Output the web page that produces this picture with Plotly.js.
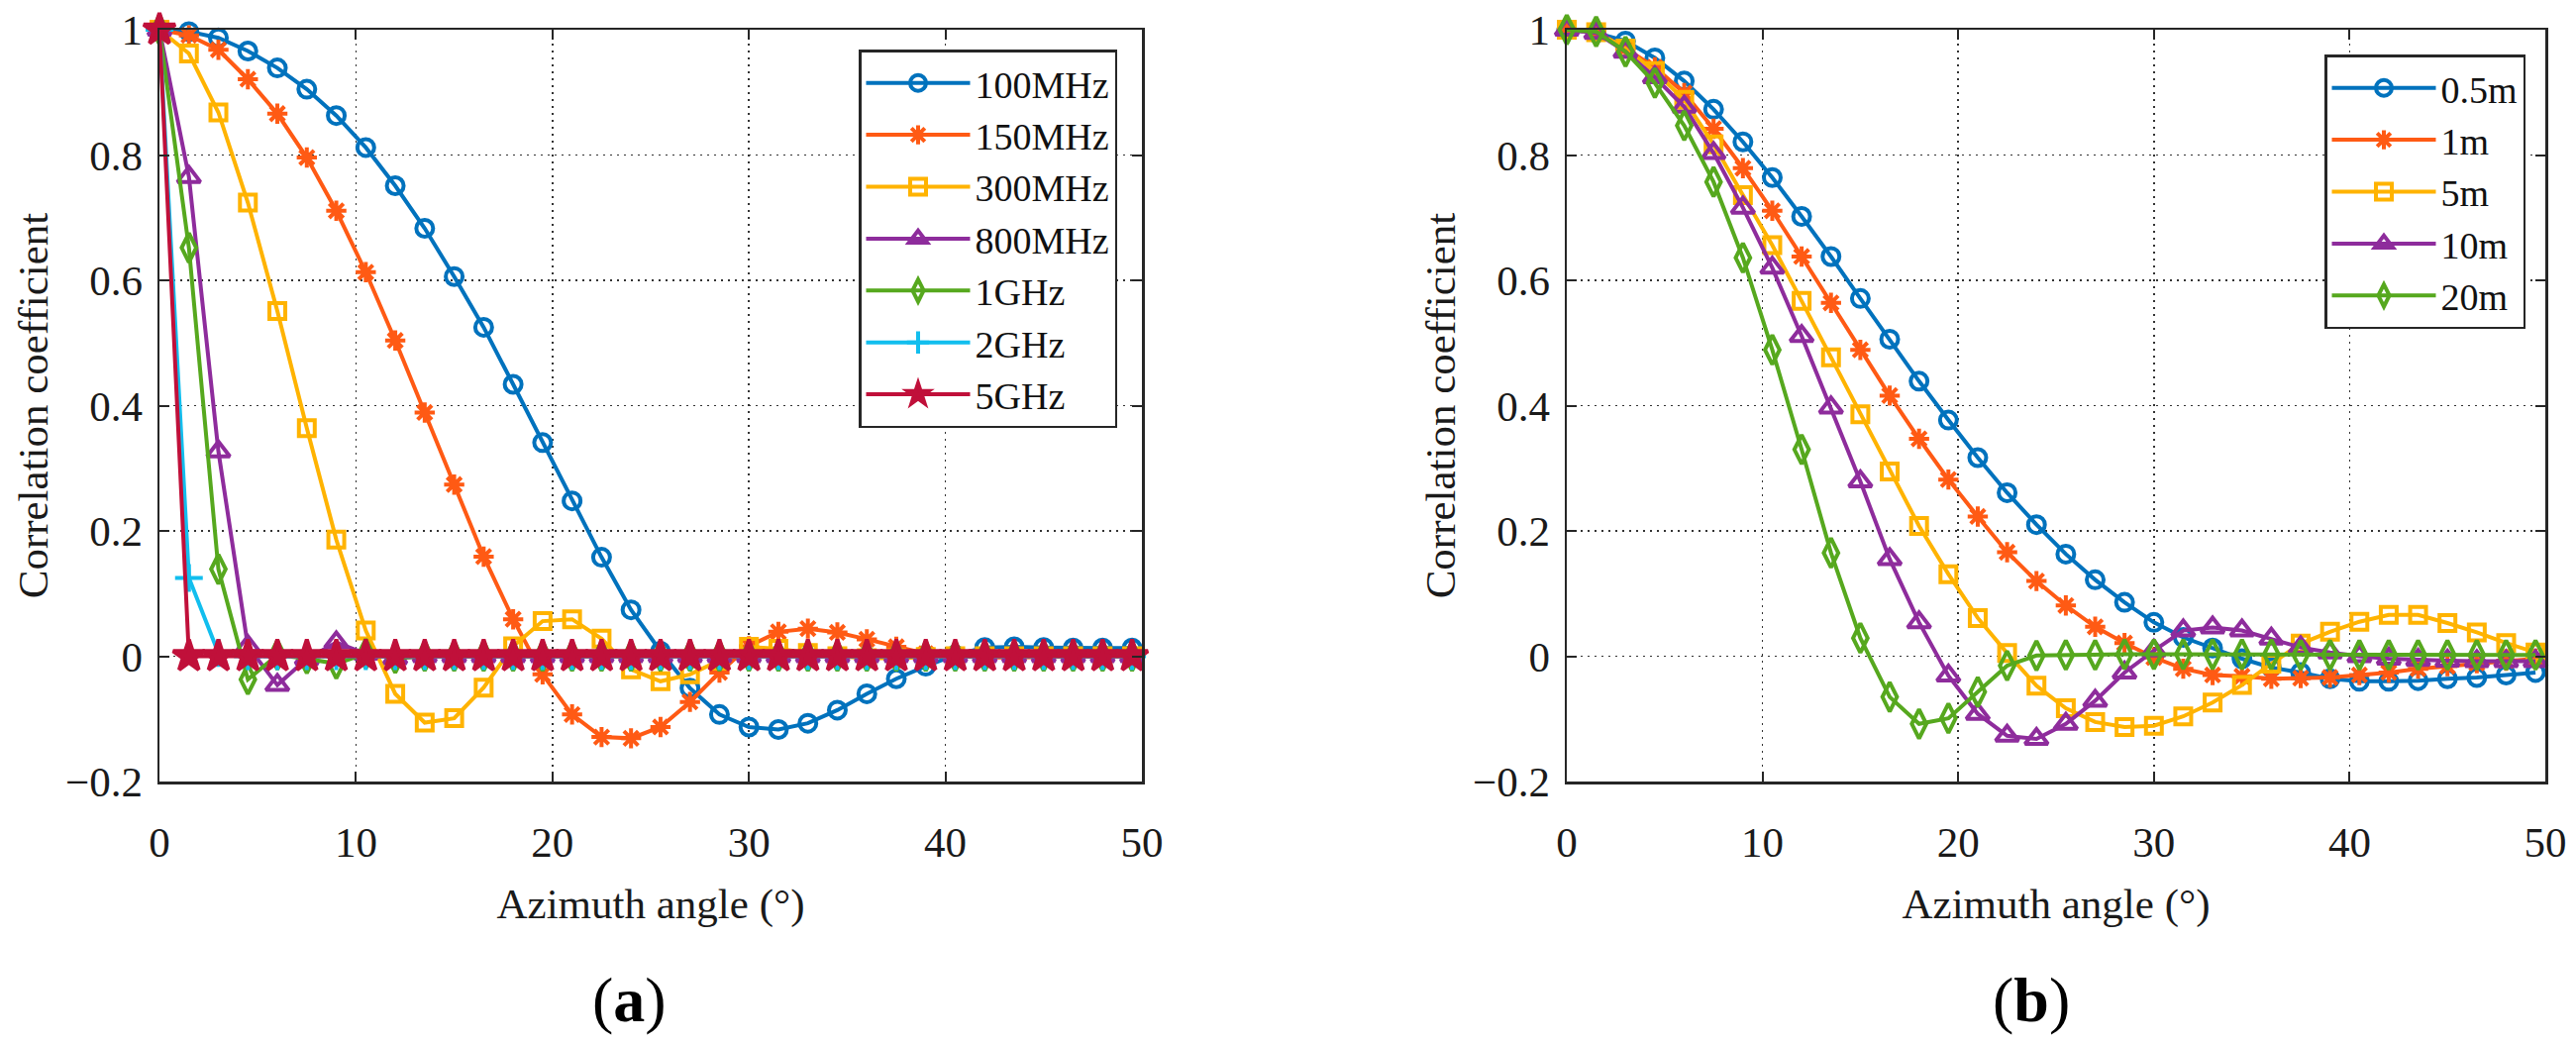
<!DOCTYPE html>
<html>
<head>
<meta charset="utf-8">
<script src="https://cdn.plot.ly/plotly-3.0.1.min.js"></script>
<style>
  html, body { margin: 0; padding: 0; background: #ffffff; }
  #chart { width: 2601px; height: 1054px; }
</style>
</head>
<body>
<div id="chart"></div>
<script>
// ---------- Data ----------
const angle = [0, 1.5, 3, 4.5, 6, 7.5, 9, 10.5, 12, 13.5, 15, 16.5, 18, 19.5, 21, 22.5, 24, 25.5,
               27, 28.5, 30, 31.5, 33, 34.5, 36, 37.5, 39, 40.5, 42, 43.5, 45, 46.5, 48, 49.5];

// (a) frequency dependence
const freqNames = ["100MHz", "150MHz", "300MHz", "800MHz", "1GHz", "2GHz", "5GHz"];
const f100MHz = [1.0, 0.997, 0.987, 0.966, 0.939, 0.905, 0.863, 0.812, 0.751, 0.683, 0.606, 0.525, 0.434, 0.341, 0.248, 0.158, 0.074, 0.008,
                 -0.051, -0.093, -0.113, -0.117, -0.107, -0.086, -0.060, -0.036, -0.016, 0.002, 0.014, 0.015, 0.014, 0.013, 0.013, 0.013];
const f150MHz = [1.0, 0.991, 0.968, 0.921, 0.866, 0.796, 0.711, 0.613, 0.504, 0.389, 0.274, 0.159, 0.059, -0.029, -0.093, -0.129, -0.131, -0.113,
                 -0.073, -0.026, 0.016, 0.039, 0.044, 0.038, 0.027, 0.015, 0.004, 0.0, -0.002, -0.002, -0.001, 0.0, 0.0, 0.0];
const f300MHz = [1.0, 0.962, 0.868, 0.724, 0.551, 0.364, 0.186, 0.041, -0.060, -0.106, -0.099, -0.050, 0.016, 0.056, 0.059, 0.028, -0.021, -0.040,
                 -0.029, -0.007, 0.015, 0.012, 0.005, 0.0, -0.003, -0.003, -0.001, 0.0, 0.0, 0.0, 0.0, 0.0, 0.0, 0.0];
const f800MHz = [1.0, 0.765, 0.327, 0.016, -0.046, -0.004, 0.022, 0.004, -0.003, 0.0, 0.0, 0.0, 0.0, 0.0, 0.0, 0.0, 0.0, 0.0,
                 0.0, 0.0, 0.0, 0.0, 0.0, 0.0, 0.0, 0.0, 0.0, 0.0, 0.0, 0.0, 0.0, 0.0, 0.0, 0.0];
const f1GHz   = [1.0, 0.652, 0.139, -0.037, 0.002, -0.004, -0.012, 0.004, -0.003, 0.0, 0.0, 0.0, 0.0, 0.0, 0.0, 0.0, 0.0, 0.0,
                 0.0, 0.0, 0.0, 0.0, 0.0, 0.0, 0.0, 0.0, 0.0, 0.0, 0.0, 0.0, 0.0, 0.0, 0.0, 0.0];
const f2GHz   = [1.0, 0.125, 0.005, 0.0, 0.0, 0.0, 0.0, 0.0, 0.0, 0.0, 0.0, 0.0, 0.0, 0.0, 0.0, 0.0, 0.0, 0.0,
                 0.0, 0.0, 0.0, 0.0, 0.0, 0.0, 0.0, 0.0, 0.0, 0.0, 0.0, 0.0, 0.0, 0.0, 0.0, 0.0];
const f5GHz   = [1.0, 0.0, 0.0, 0.0, 0.0, 0.0, 0.0, 0.0, 0.0, 0.0, 0.0, 0.0, 0.0, 0.0, 0.0, 0.0, 0.0, 0.0,
                 0.0, 0.0, 0.0, 0.0, 0.0, 0.0, 0.0, 0.0, 0.0, 0.0, 0.0, 0.0, 0.0, 0.0, 0.0, 0.0];

// (b) distance dependence
const distNames = ["0.5m", "1m", "5m", "10m", "20m"];
const d05m = [1.0, 0.995, 0.982, 0.955, 0.918, 0.873, 0.821, 0.764, 0.702, 0.638, 0.571, 0.506, 0.439, 0.377, 0.317, 0.261, 0.210, 0.163,
              0.122, 0.086, 0.054, 0.030, 0.013, -0.004, -0.018, -0.026, -0.036, -0.040, -0.040, -0.039, -0.036, -0.034, -0.030, -0.026];
const d1m  = [1.0, 0.997, 0.970, 0.940, 0.899, 0.842, 0.779, 0.711, 0.638, 0.564, 0.489, 0.416, 0.347, 0.282, 0.223, 0.166, 0.120, 0.081,
              0.047, 0.021, -0.002, -0.020, -0.030, -0.032, -0.036, -0.035, -0.034, -0.030, -0.026, -0.020, -0.016, -0.011, -0.007, -0.004];
const d5m  = [1.0, 0.996, 0.970, 0.934, 0.888, 0.817, 0.736, 0.656, 0.567, 0.477, 0.386, 0.295, 0.208, 0.131, 0.061, 0.005, -0.047, -0.083,
              -0.105, -0.113, -0.111, -0.096, -0.074, -0.046, -0.012, 0.020, 0.039, 0.055, 0.066, 0.066, 0.053, 0.038, 0.021, 0.006];
const d10m = [1.0, 0.995, 0.965, 0.924, 0.877, 0.803, 0.716, 0.620, 0.511, 0.397, 0.279, 0.155, 0.054, -0.031, -0.092, -0.127, -0.132, -0.108,
              -0.071, -0.026, 0.009, 0.041, 0.046, 0.041, 0.028, 0.014, 0.006, 0.0, -0.004, -0.006, -0.007, -0.008, -0.008, -0.008];
const d20m = [1.0, 0.997, 0.965, 0.915, 0.847, 0.757, 0.636, 0.489, 0.330, 0.165, 0.029, -0.065, -0.108, -0.099, -0.057, -0.015, 0.001, 0.002,
              0.002, 0.003, 0.003, 0.003, 0.003, 0.003, 0.003, 0.002, 0.002, 0.002, 0.002, 0.002, 0.002, 0.002, 0.002, 0.002];

const xTickVals = [0, 10, 20, 30, 40, 50];
const yTickVals = [-0.2, 0, 0.2, 0.4, 0.6, 0.8, 1];
const xTitle = "Azimuth angle (°)";
const yTitle = "Correlation coefficient";
const panelLabels = ["(<b>a</b>)", "(<b>b</b>)"];

// ---------- Styles ----------
const C = {
  blue: "#0072BD", orange: "#FF5A14", yellow: "#FFB300", purple: "#8E2C9C",
  green: "#56A81E", cyan: "#12BEEE", red: "#C0103A"
};
const FONT = "Liberation Serif, Times New Roman, serif";

function tr(name, y, color, symbol, size, xa, ya, leg) {
  return {
    type: "scatter", mode: "lines+markers", name: name,
    x: angle, y: y, xaxis: xa, yaxis: ya, legend: leg,
    cliponaxis: false,
    line: { color: color, width: 4 },
    marker: {
      symbol: symbol, size: size, color: color,
      line: { color: color, width: 4 }
    }
  };
}

const data = [
  tr(freqNames[0], f100MHz, C.blue,   "circle-open",       17, "x", "y", "legend"),
  tr(freqNames[1], f150MHz, C.orange, "asterisk-open",     17, "x", "y", "legend"),
  tr(freqNames[2], f300MHz, C.yellow, "square-open",       16, "x", "y", "legend"),
  tr(freqNames[3], f800MHz, C.purple, "triangle-up-open",  20, "x", "y", "legend"),
  tr(freqNames[4], f1GHz,   C.green,  "diamond-tall-open", 21, "x", "y", "legend"),
  tr(freqNames[5], f2GHz,   C.cyan,   "cross-thin-open",   20, "x", "y", "legend"),
  tr(freqNames[6], f5GHz,   C.red,    "star",              24, "x", "y", "legend"),
  tr(distNames[0], d05m, C.blue,   "circle-open",       17, "x2", "y2", "legend2"),
  tr(distNames[1], d1m,  C.orange, "asterisk-open",     17, "x2", "y2", "legend2"),
  tr(distNames[2], d5m,  C.yellow, "square-open",       16, "x2", "y2", "legend2"),
  tr(distNames[3], d10m, C.purple, "triangle-up-open",  20, "x2", "y2", "legend2"),
  tr(distNames[4], d20m, C.green,  "diamond-tall-open", 21, "x2", "y2", "legend2")
];

const W = 2601, H = 1054;
const yDom = [(H - 789) / H, (H - 30) / H];

function xAxis(dom, anchor) {
  return {
    domain: dom, anchor: anchor, range: [0, 50], tickvals: xTickVals,
    ticks: "inside", ticklen: 10, tickwidth: 2, tickcolor: "#262626",
    showline: true, linecolor: "#262626", linewidth: 2.5, mirror: "ticks",
    showgrid: true, gridcolor: "#333333", gridwidth: 1.5, griddash: "2px,5px",
    zeroline: false, ticklabelstandoff: 22,
    tickfont: { family: FONT, size: 43, color: "#1a1a1a" },
    title: { text: xTitle, font: { family: FONT, size: 43, color: "#1a1a1a" }, standoff: 24 }
  };
}
function yAxis(dom, anchor) {
  return {
    domain: dom, anchor: anchor, range: [-0.2, 1], tickvals: yTickVals,
    ticks: "inside", ticklen: 10, tickwidth: 2, tickcolor: "#262626",
    showline: true, linecolor: "#262626", linewidth: 2.5, mirror: "ticks",
    showgrid: true, gridcolor: "#333333", gridwidth: 1.5, griddash: "2px,5px",
    zeroline: false, ticklabelstandoff: 6,
    tickfont: { family: FONT, size: 43, color: "#1a1a1a" },
    title: { text: yTitle, font: { family: FONT, size: 43, color: "#1a1a1a" }, standoff: 4 }
  };
}

const legendBase = {
  xanchor: "left", yanchor: "top",
  bgcolor: "#ffffff", bordercolor: "#262626", borderwidth: 2.5,
  font: { family: FONT, size: 38, color: "#111" },
  itemwidth: 105, tracegroupgap: 0, itemclick: false
};

const layout = {
  width: W, height: H,
  margin: { l: 0, r: 0, t: 0, b: 0 },
  paper_bgcolor: "#ffffff", plot_bgcolor: "#ffffff",
  showlegend: true,
  xaxis: xAxis([161 / W, 1153 / W], "y"),
  yaxis: yAxis(yDom, "x"),
  xaxis2: xAxis([1582 / W, 2570 / W], "y2"),
  yaxis2: yAxis(yDom, "x2"),
  legend: Object.assign({}, legendBase, { x: 867 / W, y: 1 - 50 / H }),
  legend2: Object.assign({}, legendBase, { x: 2347 / W, y: 1 - 55 / H }),
  annotations: [
    { text: panelLabels[0], xref: "paper", yref: "paper", x: 635 / W, y: 1 - 1009 / H,
      xanchor: "center", yanchor: "middle", showarrow: false,
      font: { family: FONT, size: 64, color: "#000" } },
    { text: panelLabels[1], xref: "paper", yref: "paper", x: 2051 / W, y: 1 - 1009 / H,
      xanchor: "center", yanchor: "middle", showarrow: false,
      font: { family: FONT, size: 64, color: "#000" } }
  ]
};

Plotly.newPlot("chart", data, layout, { staticPlot: true, displayModeBar: false });
</script>
</body>
</html>
